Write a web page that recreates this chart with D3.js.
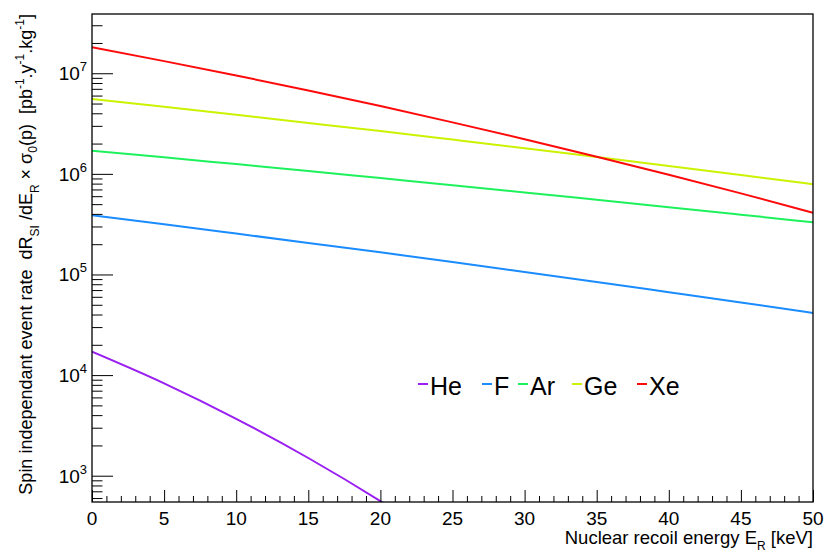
<!DOCTYPE html>
<html>
<head>
<meta charset="utf-8">
<script src="https://cdn.jsdelivr.net/npm/d3@7"></script>
<style>
  html, body { margin: 0; padding: 0; background: #fff; }
  svg { display: block; }
  text { font-family: "Liberation Sans", Arial, Helvetica, sans-serif; white-space: pre; }
</style>
</head>
<body>
<svg id="chart" width="825" height="552"></svg>
<script>
// ---------------- data ----------------
const energies = [0, 5, 10, 15, 20, 25, 30, 35, 40, 45, 50];           // keV
const heEnergies = [0, 5, 10, 15, 20, 25];                              // keV (He leaves the frame ~20.5 keV)

const heRate = [17100, 8290, 3680, 1500, 560, 192];
const fRate  = [3.87e5, 3.15e5, 2.55e5, 2.06e5, 1.66e5, 1.33e5, 1.06e5, 8.43e4, 6.67e4, 5.27e4, 4.14e4];
const arRate = [1.70e6, 1.46e6, 1.25e6, 1.07e6, 9.08e5, 7.71e5, 6.54e5, 5.53e5, 4.67e5, 3.93e5, 3.30e5];
const geRate = [5.56e6, 4.65e6, 3.87e6, 3.21e6, 2.66e6, 2.19e6, 1.80e6, 1.47e6, 1.20e6, 9.75e5, 7.89e5];
const xeRate = [1.81e7, 1.32e7, 9.51e6, 6.74e6, 4.72e6, 3.25e6, 2.21e6, 1.48e6, 9.81e5, 6.40e5, 4.11e5];

const seriesNames = ["He", "F", "Ar", "Ge", "Xe"];
const seriesColors = ["#9a1ff2", "#1a8cff", "#1df25c", "#cdf200", "#ff0a0a"];

const xTickValues = [0, 5, 10, 15, 20, 25, 30, 35, 40, 45, 50];
const yTickExponents = [3, 4, 5, 6, 7];

const xDomain = [0, 50];
const yDomain = [548, 3.88e7];

// ---------------- layout ----------------
const svg = d3.select("#chart");
const L = 92, R = 813, T = 14, B = 502;

const x = d3.scaleLinear().domain(xDomain).range([L, R]);
const y = d3.scaleLog().domain(yDomain).range([B, T]);

svg.append("rect").attr("width", 825).attr("height", 552).attr("fill", "#fff");

svg.append("defs").append("clipPath").attr("id", "plotclip")
  .append("rect").attr("x", L).attr("y", T).attr("width", R - L).attr("height", B - T);

// ---------------- curves ----------------
const series = [
  { name: seriesNames[0], color: seriesColors[0], xs: heEnergies, ys: heRate },
  { name: seriesNames[1], color: seriesColors[1], xs: energies, ys: fRate },
  { name: seriesNames[2], color: seriesColors[2], xs: energies, ys: arRate },
  { name: seriesNames[3], color: seriesColors[3], xs: energies, ys: geRate },
  { name: seriesNames[4], color: seriesColors[4], xs: energies, ys: xeRate }
];

const line = d3.line()
  .x(d => x(d[0]))
  .y(d => y(d[1]))
  .curve(d3.curveMonotoneX);

const gCurves = svg.append("g").attr("clip-path", "url(#plotclip)");
series.forEach(s => {
  gCurves.append("path")
    .datum(s.xs.map((e, i) => [e, s.ys[i]]))
    .attr("fill", "none")
    .attr("stroke", s.color)
    .attr("stroke-width", 2)
    .attr("d", line);
});

// ---------------- axes ----------------
const xMinor = d3.range(xDomain[0], xDomain[1] + 0.001, 1).filter(v => v % 5 !== 0);
const xAxisMajor = d3.axisTop(x).tickValues(xTickValues).tickSize(12).tickFormat("");
const xAxisMinor = d3.axisTop(x).tickValues(xMinor).tickSize(6).tickFormat("");
[xAxisMajor, xAxisMinor].forEach(ax => {
  const g = svg.append("g").attr("transform", `translate(0,${B})`).call(ax);
  g.select(".domain").remove();
  g.selectAll("line").attr("stroke", "#000").attr("stroke-width", 1);
});
svg.append("g").selectAll("text").data(xTickValues).join("text")
  .attr("x", d => x(d)).attr("y", 525)
  .attr("text-anchor", "middle")
  .attr("font-size", 19).attr("fill", "#000")
  .text(d => d);

const yMajor = yTickExponents.map(k => Math.pow(10, k));
const yMinor = [];
for (let k = 2; k <= 7; k++) for (let m = 2; m <= 9; m++) {
  const v = m * Math.pow(10, k);
  if (v >= yDomain[0] && v <= yDomain[1]) yMinor.push(v);
}
const yAxisMajor = d3.axisRight(y).tickValues(yMajor).tickSize(21).tickFormat("");
const yAxisMinor = d3.axisRight(y).tickValues(yMinor).tickSize(10.5).tickFormat("");
[yAxisMajor, yAxisMinor].forEach(ax => {
  const g = svg.append("g").attr("transform", `translate(${L},0)`).call(ax);
  g.select(".domain").remove();
  g.selectAll("line").attr("stroke", "#000").attr("stroke-width", 1);
});
const yLab = svg.append("g").selectAll("text").data(yTickExponents).join("text")
  .attr("x", 87).attr("y", k => y(Math.pow(10, k)) + 7)
  .attr("text-anchor", "end")
  .attr("font-size", 19).attr("fill", "#000");
yLab.append("tspan").text("10");
yLab.append("tspan").attr("dy", -9).attr("font-size", 13).text(k => k);

// frame
svg.append("rect")
  .attr("x", L).attr("y", T).attr("width", R - L).attr("height", B - T)
  .attr("fill", "none").attr("stroke", "#000").attr("stroke-width", 1.3);

// ---------------- axis titles ----------------
const xt = svg.append("text")
  .attr("x", R).attr("y", 544).attr("text-anchor", "end")
  .attr("font-size", 18.5).attr("fill", "#000");
xt.append("tspan").text("Nuclear recoil energy E");
xt.append("tspan").attr("dy", 6).attr("font-size", 12).text("R");
xt.append("tspan").attr("dy", -6).text(" [keV]");

const yt = svg.append("text")
  .attr("transform", `translate(32,${T}) rotate(-90)`)
  .attr("text-anchor", "end")
  .attr("font-size", 18).attr("fill", "#000");
yt.append("tspan").text("Spin independant event rate  dR");
yt.append("tspan").attr("dy", 7).attr("font-size", 12).text("SI");
yt.append("tspan").attr("dy", -7).text(" /dE");
yt.append("tspan").attr("dy", 7).attr("font-size", 12).text("R");
yt.append("tspan").attr("dy", -7).text(" \u00d7 \u03c3");
yt.append("tspan").attr("dy", 5).attr("font-size", 12).text("0");
yt.append("tspan").attr("dy", -5).text("(p)  [pb");
yt.append("tspan").attr("dy", -8).attr("font-size", 12).text("-1");
yt.append("tspan").attr("dy", 8).text(".y");
yt.append("tspan").attr("dy", -8).attr("font-size", 12).text("-1");
yt.append("tspan").attr("dy", 8).text(".kg");
yt.append("tspan").attr("dy", -8).attr("font-size", 12).text("-1");
yt.append("tspan").attr("dy", 8).text("]");

// ---------------- legend ----------------
const legendStarts = [418, 482, 518, 572, 637];
const legendBaseline = 395;
const lg = svg.append("g");
series.forEach((s, i) => {
  const x0 = legendStarts[i];
  lg.append("line")
    .attr("x1", x0).attr("x2", x0 + 10)
    .attr("y1", legendBaseline - 11).attr("y2", legendBaseline - 11)
    .attr("stroke", s.color).attr("stroke-width", 2);
  lg.append("text")
    .attr("x", x0 + 12).attr("y", legendBaseline)
    .attr("font-size", 25).attr("fill", "#000")
    .text(s.name);
});
</script>
</body>
</html>
